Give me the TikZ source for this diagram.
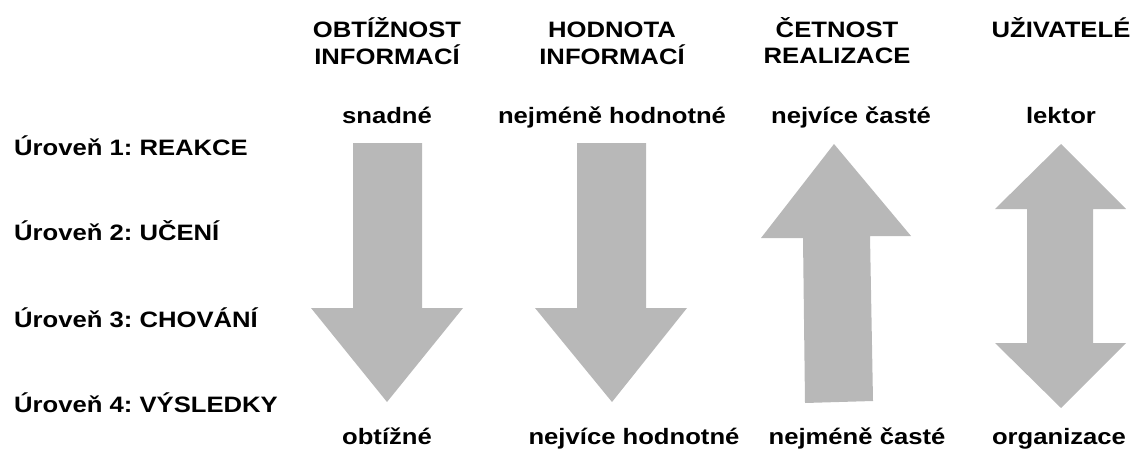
\documentclass[tikz,border=0pt]{standalone}
\usepackage{fontspec}
\setmainfont{Liberation Sans}[FakeStretch=1.15]
\frenchspacing
\begin{document}
\begin{tikzpicture}[x=1pt,y=-1pt,
  lbl/.style={font=\fontsize{22.3}{26}\selectfont\bfseries, inner sep=0pt, anchor=base},
  bigarrow/.style={fill=arrowgray, draw=none}]
\definecolor{arrowgray}{HTML}{B8B8B8}
\useasboundingbox (0,0) rectangle (1142,455);

% column headers
\node[lbl] (h1) at (387,37) {\begin{tabular}[t]{@{}c@{}}OBTÍŽNOST\\INFORMACÍ\end{tabular}};
\node[lbl] (h2) at (612,37) {\begin{tabular}[t]{@{}c@{}}HODNOTA\\INFORMACÍ\end{tabular}};
\node[lbl] (h3) at (837,37) {\begin{tabular}[t]{@{}c@{}}ČETNOST\\REALIZACE\end{tabular}};
\node[lbl] (h4) at (1061,37) {UŽIVATELÉ};

% top ends
\node[lbl] (t1) at (387,123) {snadné};
\node[lbl] (t2) at (612,123) {nejméně hodnotné};
\node[lbl] (t3) at (851,123) {nejvíce časté};
\node[lbl] (t4) at (1061,123) {lektor};

% bottom ends
\node[lbl] (b1) at (387,444) {obtížné};
\node[lbl] (b2) at (634,444) {nejvíce hodnotné};
\node[lbl] (b3) at (857,444) {nejméně časté};
\node[lbl] (b4) at (1059,444) {organizace};

% levels
\node[lbl, anchor=base west] (l1) at (14,155) {Úroveň 1: REAKCE};
\node[lbl, anchor=base west] (l2) at (14,240) {Úroveň 2: UČENÍ};
\node[lbl, anchor=base west] (l3) at (14,327) {Úroveň 3: CHOVÁNÍ};
\node[lbl, anchor=base west] (l4) at (14,412) {Úroveň 4: VÝSLEDKY};

% block arrows
\fill[bigarrow] (353,143) -- (422,143) -- (422,308) -- (463,308) -- (387,402)
  -- (311,308) -- (353,308) -- cycle;
\fill[bigarrow] (577,143) -- (646,143) -- (646,308) -- (687,308) -- (612,402)
  -- (535,308) -- (577,308) -- cycle;
\fill[bigarrow] (834,144) -- (911,236) -- (870,236) -- (873,401) -- (805,403)
  -- (803,238) -- (761,238) -- cycle;
\fill[bigarrow] (1061,144) -- (1126,209) -- (1093,209) -- (1093,343) -- (1126,343)
  -- (1061,408) -- (995,343) -- (1027,343) -- (1027,209) -- (995,209) -- cycle;
\end{tikzpicture}
\end{document}
